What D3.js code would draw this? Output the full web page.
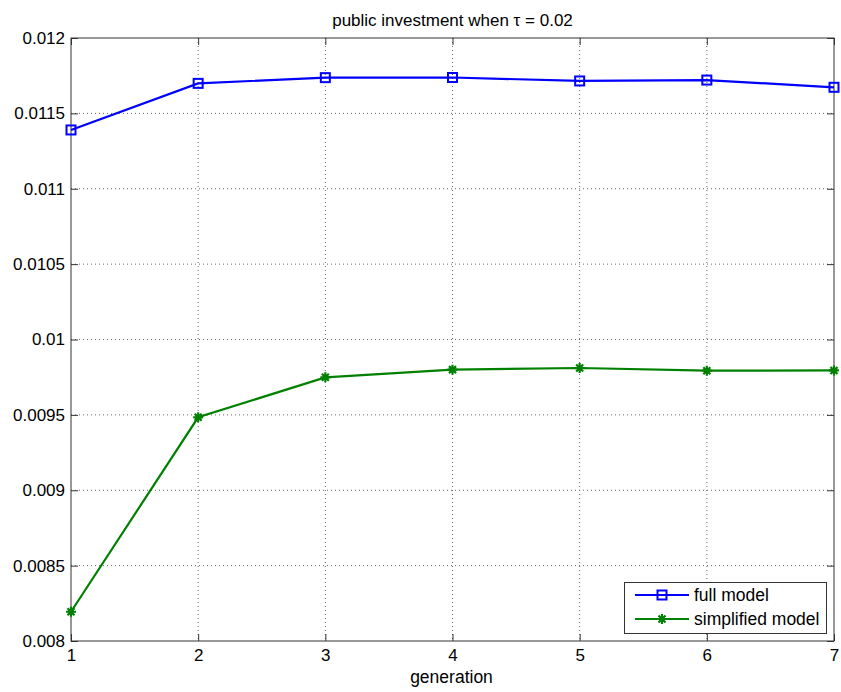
<!DOCTYPE html>
<html><head><meta charset="utf-8">
<script src="https://cdn.jsdelivr.net/npm/d3@7"></script>
<style>body{margin:0;background:#fff}svg{display:block}text{font-family:"Liberation Sans",Arial,sans-serif;fill:#000}</style>
</head><body><svg id="c" width="841" height="692"></svg>
<script>
const generations = [1,2,3,4,5,6,7];
const fullModel = [0.011390,0.011699,0.011737,0.011738,0.011715,0.011721,0.011673];
const simplifiedModel = [0.008194,0.009484,0.009749,0.009800,0.009811,0.009793,0.009795];
const xTicks = [1,2,3,4,5,6,7];
const yTicks = [0.008,0.0085,0.009,0.0095,0.01,0.0105,0.011,0.0115,0.012];
const yTickLabels = ["0.008","0.0085","0.009","0.0095","0.01","0.0105","0.011","0.0115","0.012"];
const seriesNames = ["full model","simplified model"];
const seriesColors = ["#0000ff","#008000"];

const svg = d3.select("#c");
const L=71,R=834,T=38,B=641;
const x = d3.scaleLinear().domain([1,7]).range([L,R]);
const y = d3.scaleLinear().domain([0.008,0.012]).range([B,T]);

// grid
const g = svg.append("g");
g.selectAll(".vg").data(xTicks.slice(1,-1)).enter().append("line")
 .attr("x1",d=>x(d)).attr("x2",d=>x(d)).attr("y1",T).attr("y2",B)
 .attr("stroke","#666").attr("stroke-width",1).attr("stroke-dasharray","1,3");
g.selectAll(".hg").data(yTicks.slice(1,-1)).enter().append("line")
 .attr("y1",d=>y(d)).attr("y2",d=>y(d)).attr("x1",L).attr("x2",R)
 .attr("stroke","#666").attr("stroke-width",1).attr("stroke-dasharray","1,3");

// axes
const xb = d3.axisBottom(x).tickValues(xTicks).tickFormat(d3.format("d")).tickSizeInner(-7).tickSizeOuter(0).tickPadding(8);
const xt = d3.axisTop(x).tickValues(xTicks).tickFormat("").tickSizeInner(-7).tickSizeOuter(0);
const yl = d3.axisLeft(y).tickValues(yTicks).tickFormat((d,i)=>yTickLabels[i]).tickSizeInner(-7).tickSizeOuter(0).tickPadding(6);
const yr = d3.axisRight(y).tickValues(yTicks).tickFormat("").tickSizeInner(-7).tickSizeOuter(0);
function style(sel){sel.select(".domain").remove();sel.selectAll("line").attr("stroke","#333");sel.selectAll("text").attr("font-size","17px").attr("fill","#000");}
svg.append("g").attr("transform",`translate(0,${B})`).call(xb).call(style);
svg.append("g").attr("transform",`translate(0,${T})`).call(xt).call(style);
svg.append("g").attr("transform",`translate(${L},0)`).call(yl).call(style);
svg.append("g").attr("transform",`translate(${R},0)`).call(yr).call(style);
svg.append("rect").attr("x",L).attr("y",T).attr("width",R-L).attr("height",B-T).attr("fill","none").attr("stroke","#333").attr("stroke-width",1);

// lines
const line = d3.line().x((d,i)=>x(generations[i])).y(d=>y(d));
const data = [fullModel, simplifiedModel];
data.forEach((s,k)=>{
  svg.append("path").datum(s).attr("d",line).attr("fill","none").attr("stroke",seriesColors[k]).attr("stroke-width",2.2);
});
function square(sel,cx,cy,col){sel.append("rect").attr("x",cx-4.5).attr("y",cy-4.5).attr("width",9).attr("height",9).attr("fill","none").attr("stroke",col).attr("stroke-width",2);}
function star(sel,cx,cy,col){
  const r=5;
  const p=`M${cx-r},${cy}L${cx+r},${cy}M${cx},${cy-r}L${cx},${cy+r}M${cx-r*0.7},${cy-r*0.7}L${cx+r*0.7},${cy+r*0.7}M${cx-r*0.7},${cy+r*0.7}L${cx+r*0.7},${cy-r*0.7}`;
  sel.append("path").attr("d",p).attr("stroke",col).attr("stroke-width",2.2).attr("fill","none");
}
fullModel.forEach((v,i)=>square(svg,x(generations[i]),y(v),seriesColors[0]));
simplifiedModel.forEach((v,i)=>star(svg,x(generations[i]),y(v),seriesColors[1]));

// title and label
svg.append("text").attr("x",(L+R)/2).attr("y",26).attr("text-anchor","middle").attr("font-size","17px").text("public investment when τ = 0.02");
svg.append("text").attr("x",(L+R)/2 - 1).attr("y",683).attr("text-anchor","middle").attr("font-size","17.5px").text("generation");

// legend
const lg = svg.append("g");
lg.append("rect").attr("x",624.5).attr("y",582.5).attr("width",202).attr("height",51).attr("fill","#fff").attr("stroke","#333").attr("stroke-width",1);
[595,619].forEach((ly,k)=>{
  lg.append("line").attr("x1",635).attr("x2",689).attr("y1",ly).attr("y2",ly).attr("stroke",seriesColors[k]).attr("stroke-width",2.2);
  if(k===0) square(lg,662,ly,seriesColors[0]); else star(lg,662,ly,seriesColors[1]);
  lg.append("text").attr("x",694).attr("y",ly+6).attr("font-size","17.5px").text(seriesNames[k]);
});
</script></body></html>
